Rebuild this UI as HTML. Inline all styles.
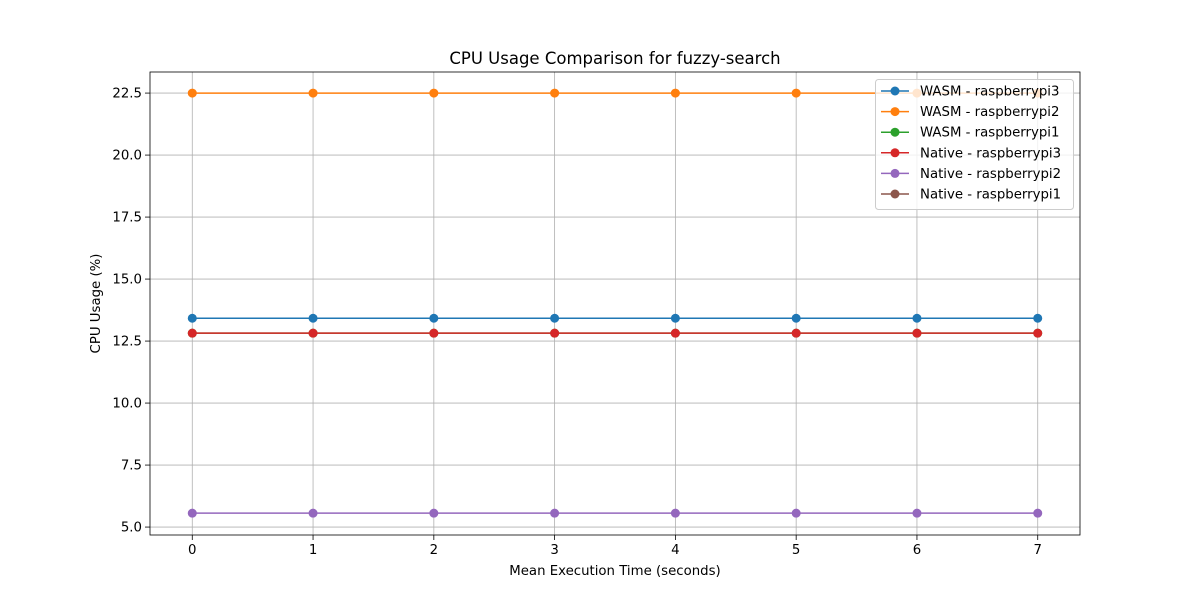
<!DOCTYPE html>
<html><head><meta charset="utf-8"><style>
body{margin:0;background:#fff;font-family:"DejaVu Sans","Liberation Sans",sans-serif;}
</style></head><body>
<svg id="chart" width="1200" height="600" xmlns="http://www.w3.org/2000/svg" style="font-family:'DejaVu Sans','Liberation Sans',sans-serif"></svg>
<script>
const categories=[0,1,2,3,4,5,6,7];
const seriesNames=["WASM - raspberrypi3","WASM - raspberrypi2","WASM - raspberrypi1","Native - raspberrypi3","Native - raspberrypi2","Native - raspberrypi1"];
const wasmPi3=[13.42,13.42,13.42,13.42,13.42,13.42,13.42,13.42];
const wasmPi2=[22.5,22.5,22.5,22.5,22.5,22.5,22.5,22.5];
const wasmPi1=[12.82,12.82,12.82,12.82,12.82,12.82,12.82,12.82];
const nativePi3=[12.82,12.82,12.82,12.82,12.82,12.82,12.82,12.82];
const nativePi2=[5.56,5.56,5.56,5.56,5.56,5.56,5.56,5.56];
const nativePi1=[];
const yTicks=[5.0,7.5,10.0,12.5,15.0,17.5,20.0,22.5];
const xTicks=[0,1,2,3,4,5,6,7];
const colors=["#1f77b4","#ff7f0e","#2ca02c","#d62728","#9467bd","#8c564b"];
const allSeries=[wasmPi3,wasmPi2,wasmPi1,nativePi3,nativePi2,nativePi1];

const L=150,R=1080,T=72,B=535;
const xMin=-0.35,xMax=7.35,yMin=4.68,yMax=23.35;
const sx=v=>L+(v-xMin)/(xMax-xMin)*(R-L);
const sy=v=>B-(v-yMin)/(yMax-yMin)*(B-T);
const svg=document.getElementById('chart');
const NS="http://www.w3.org/2000/svg";
function mk(tag,attrs,parent){const e=document.createElementNS(NS,tag);for(const k in attrs)e.setAttribute(k,attrs[k]);(parent||svg).appendChild(e);return e;}

const grid=mk('g',{});


xTicks.forEach(t=>{
  mk('line',{x1:sx(t),x2:sx(t),y1:T,y2:B,stroke:'#b0b0b0','stroke-width':0.8},grid);
  mk('line',{x1:sx(t),x2:sx(t),y1:B,y2:B+5,stroke:'#000','stroke-width':0.8});
  const tx=mk('text',{x:sx(t),y:B+19,'text-anchor':'middle','font-size':13.3,fill:'#000'});
  tx.textContent=t;
  
  
});
yTicks.forEach(t=>{
  mk('line',{x1:L,x2:R,y1:sy(t),y2:sy(t),stroke:'#b0b0b0','stroke-width':0.8},grid);
  mk('line',{x1:L-5,x2:L,y1:sy(t),y2:sy(t),stroke:'#000','stroke-width':0.8});
  const tx=mk('text',{x:L-8,y:sy(t)+4.5,'text-anchor':'end','font-size':13.3,fill:'#000'});
  tx.textContent=t.toFixed(1);
  
  
});

allSeries.forEach((s,i)=>{
  const g=mk('g',{});
  
  
  if(!s.length)return;
  mk('polyline',{points:s.map((v,j)=>sx(categories[j])+','+sy(v)).join(' '),fill:'none',stroke:colors[i],'stroke-width':1.5},g);
  s.forEach((v,j)=>{
    const c=mk('circle',{cx:sx(categories[j]),cy:sy(v),r:4.5,fill:colors[i]},g);
    
    
  });
});

const frame=mk('rect',{x:L,y:T,width:R-L,height:B-T,fill:'none',stroke:'#000','stroke-width':0.8});



const title=mk('text',{x:(L+R)/2,y:64,'text-anchor':'middle','font-size':16.5,fill:'#000'});
title.textContent='CPU Usage Comparison for fuzzy-search';


const xt=mk('text',{x:(L+R)/2,y:575,'text-anchor':'middle','font-size':13.3,fill:'#000'});
xt.textContent='Mean Execution Time (seconds)';


const yt=mk('text',{x:0,y:0,'text-anchor':'middle','font-size':13.3,fill:'#000',transform:'translate(100,'+((T+B)/2)+') rotate(-90)'});
yt.textContent='CPU Usage (%)';



const lg=mk('g',{});


mk('rect',{x:875.5,y:79.5,width:198,height:130,rx:3,fill:'#fff','fill-opacity':0.8,stroke:'#ccc'},lg);
seriesNames.forEach((n,i)=>{
  const y=91+i*20.6;
  const e=mk('g',{},lg);
  
  
  mk('line',{x1:881,x2:909,y1:y,y2:y,stroke:colors[i],'stroke-width':1.5},e);
  mk('circle',{cx:895,cy:y,r:4.5,fill:colors[i]},e);
  const t=mk('text',{x:920,y:y+4.5,'font-size':13.3,fill:'#000'},e);
  t.textContent=n;
});
</script>
</body></html>
